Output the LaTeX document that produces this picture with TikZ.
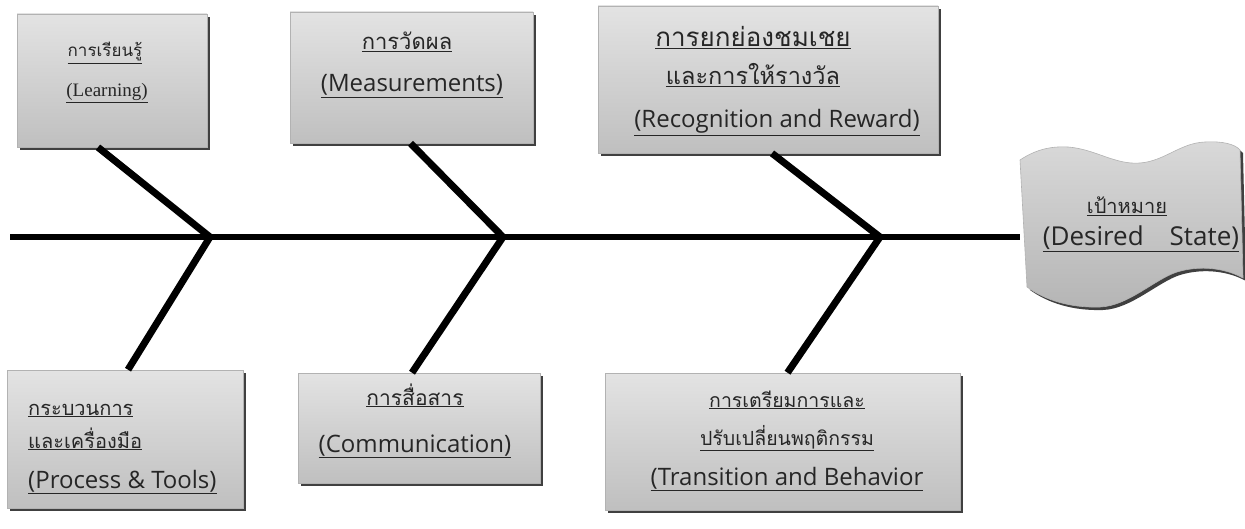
\documentclass[tikz,border=0pt]{standalone}
\usepackage{fontspec}
\setmainfont{Open Sans}
\newfontfamily\thai[Script=Thai]{Loma}
\newfontfamily\serifen{Liberation Serif}
\usetikzlibrary{shadows}
\newcommand\myul[1]{\underline{#1}}
\tikzset{
  box/.style={draw=gray!60, line width=0.6pt, top color=gray!22, bottom color=gray!50,
    drop shadow={shadow xshift=3pt, shadow yshift=-3pt, fill=black!75, opacity=1},
    inner sep=0pt},
  thl/.style={font=\thai\fontsize{20}{24}\selectfont, anchor=base, inner sep=0pt, text=black!85},
  thbig/.style={thl, font=\thai\fontsize{22}{26}\selectfont},
  enl/.style={font=\fontsize{24}{28}\selectfont, anchor=base, inner sep=0pt, text=black!85},
  bone/.style={line width=7pt, black},
  spine/.style={line width=6pt, black}
}
\begin{document}
\begin{tikzpicture}[x=1pt,y=-1pt]
\useasboundingbox (0,0) rectangle (1245,529);
% boxes
\node[box, minimum width=190pt, minimum height=133pt] (learn) at (112,80.5) {};
\node[box, minimum width=243pt, minimum height=131pt] (meas) at (411.5,77.5) {};
\node[box, minimum width=340pt, minimum height=147pt] (recog) at (768,79.5) {};
\node[box, minimum width=236pt, minimum height=138pt] (proc) at (125,439) {};
\node[box, minimum width=242pt, minimum height=110pt] (comm) at (419,428) {};
\node[box, minimum width=355pt, minimum height=137pt] (trans) at (782.5,441.5) {};
% flag
\def\flagpath{(1020,160) .. controls (1035,150) and (1050,146) .. (1068,147) .. controls (1095,149) and (1115,165) .. (1140,163) .. controls (1165,161) and (1180,143) .. (1205,142) .. controls (1222,141) and (1235,144) .. (1240,150) -- (1243,278) .. controls (1225,268) and (1200,265) .. (1177,272) .. controls (1155,279) and (1128,306) .. (1100,307) .. controls (1070,308) and (1045,300) .. (1027,287) -- cycle}
\fill[black!75, xshift=3pt, yshift=-3pt] \flagpath;
\shade[top color=gray!30, bottom color=gray!58, draw=gray!60, line width=0.6pt] \flagpath;
\node[minimum width=223pt, minimum height=160pt, inner sep=0pt] (flag) at (1131.5,228) {};
% spine and bones
\coordinate (s0) at (10,237);
\coordinate (j1) at (210,237);
\coordinate (j2) at (503,237);
\coordinate (j3) at (880,237);
\draw[spine] (s0) -- (s0 -| flag.west);
\draw[bone] ([xshift=-14pt]learn.south) -- (j1);
\draw[bone] ([xshift=-1pt]meas.south) -- (j2);
\draw[bone] ([xshift=4pt]recog.south) -- (j3);
\draw[bone] (j1) -- ([xshift=3pt]proc.north);
\draw[bone] (j2) -- ([xshift=-7pt]comm.north);
\draw[bone] (j3) -- ([xshift=5pt]trans.north);
% texts
\node[thl, font=\thai\fontsize{17}{20}\selectfont] (l1) at (105,57) {\myul{การเรียนรู้}};
\node[enl, font=\serifen\fontsize{19}{22}\selectfont] (l2) at (107,97) {\myul{(Learning)}};
\node[thbig] (m1) at (407,50) {\myul{การวัดผล}};
\node[enl] (m2) at (412,92) {\myul{(Measurements)}};
\node[thl, font=\thai\fontsize{26}{30}\selectfont] (r1) at (753,47) {\myul{การยกย่องชมเชย}};
\node[thl, font=\thai\fontsize{23.5}{28}\selectfont] (r2) at (753,85) {\myul{และการให้รางวัล}};
\node[enl] (r3) at (777,128) {\myul{(Recognition and Reward)}};
\node[thl, anchor=base west] (p1) at (28,415) {\myul{กระบวนการ}};
\node[thl, anchor=base west] (p2) at (28,448) {\myul{และเครื่องมือ}};
\node[enl, anchor=base west] (p3) at (28,488) {\myul{(Process \& Tools)}};
\node[thl, font=\thai\fontsize{21}{24}\selectfont] (c1) at (415,405) {\myul{การสื่อสาร}};
\node[enl] (c2) at (415,452) {\myul{(Communication)}};
\node[thl, font=\thai\fontsize{19.5}{24}\selectfont] (t1) at (787,407) {\myul{การเตรียมการและ}};
\node[thl, font=\thai\fontsize{19.5}{24}\selectfont] (t2) at (787,445) {\myul{ปรับเปลี่ยนพฤติกรรม}};
\node[enl] (t3) at (787,485) {\myul{(Transition and Behavior}};
\node[thl] (d1) at (1127,214) {\myul{เป้าหมาย}};
\node[enl, font=\fontsize{26}{30}\selectfont] (d2) at (1141,246) {\myul{(Desired\hspace{1em}State)}};
\end{tikzpicture}
\end{document}
